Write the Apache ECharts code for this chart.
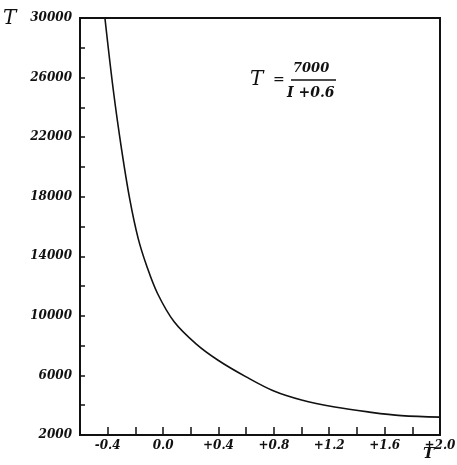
<!DOCTYPE html>
<html>
<head>
<meta charset="utf-8">
<script src="https://cdn.jsdelivr.net/npm/echarts@6/dist/echarts.min.js"></script>
<style>
  html, body { margin: 0; padding: 0; background: #fff; }
  #chart { width: 457px; height: 465px; }
</style>
</head>
<body>
<div id="chart"></div>
<script>
// values (I, T)
const currentI = [-0.42, -0.36, -0.30, -0.24, -0.18, -0.12, -0.04, 0.08, 0.24, 0.40, 0.60, 0.80, 1.00, 1.24, 1.48, 1.72, 2.00];
const tempT = [30000, 25200, 21200, 17800, 15200, 13400, 11500, 9600, 8100, 7000, 5900, 4950, 4350, 3880, 3550, 3300, 3200];
const xTickLabels = { '-4': '-0.4', '0': '0.0', '4': '+0.4', '8': '+0.8', '12': '+1.2', '16': '+1.6', '20': '+2.0' };
const yTickLabels = [2000, 6000, 10000, 14000, 18000, 22000, 26000, 30000];

const FONT = 'DejaVu Serif';
const chart = echarts.init(document.getElementById('chart'));

chart.setOption({
    backgroundColor: '#fff',
    animation: false,
    grid: {
        left: 80, right: 17, top: 18, bottom: 30, outerBoundsMode: 'none', containLabel: false,
        show: true, borderColor: '#111', borderWidth: 2
    },
    xAxis: {
        type: 'value', min: -0.6, max: 2.0, interval: 0.2,
        axisLine: { onZero: false, lineStyle: { color: '#111', width: 2 } },
        axisTick: { inside: true, length: 8, lineStyle: { color: '#111', width: 1.5 } },
        splitLine: { show: false },
        axisLabel: {
            color: '#111', fontFamily: FONT, fontStyle: 'italic', fontWeight: 'bold', fontSize: 12, margin: 5,
            formatter: v => xTickLabels[String(Math.round(v * 10))] || ''
        }
    },
    yAxis: {
        type: 'value', min: 2000, max: 30000, interval: 2000,
        axisLine: { onZero: false, lineStyle: { color: '#111', width: 2 } },
        axisTick: { inside: true, length: 5, lineStyle: { color: '#111', width: 1.5 } },
        splitLine: { show: false },
        axisLabel: {
            color: '#111', fontFamily: FONT, fontStyle: 'italic', fontWeight: 'bold', fontSize: 12, margin: 8,
            formatter: v => yTickLabels.includes(Math.round(v)) ? String(Math.round(v)) : ''
        }
    },
    series: [{
        type: 'line', smooth: 0.35, showSymbol: false, clip: true,
        lineStyle: { color: '#111', width: 1.6 },
        data: currentI.map((x, i) => [x, tempT[i]])
    }],
    graphic: [
        // axis names
        { type: 'text', left: 3, top: 9, style: { text: 'T', font: 'italic 20px "DejaVu Serif"', fill: '#111' } },
        { type: 'text', left: 423, top: 447, style: { text: 'T', font: 'italic bold 15px "DejaVu Serif"', fill: '#111' } },
        // formula
        { type: 'text', left: 250, top: 70, style: { text: 'T', font: 'italic 20px "DejaVu Serif"', fill: '#111' } },
        { type: 'text', left: 273, top: 73, style: { text: '=', font: '14px "DejaVu Serif"', fill: '#111' } },
        { type: 'text', left: 293, top: 62, style: { text: '7000', font: 'italic bold 13px "DejaVu Serif"', fill: '#111' } },
        { type: 'line', shape: { x1: 291, y1: 80, x2: 336, y2: 80 }, style: { stroke: '#111', lineWidth: 1.5 } },
        { type: 'text', left: 287, top: 86, style: { text: 'I +0.6', font: 'italic bold 14px "DejaVu Serif"', fill: '#111' } }
    ]
});
</script>
</body>
</html>
